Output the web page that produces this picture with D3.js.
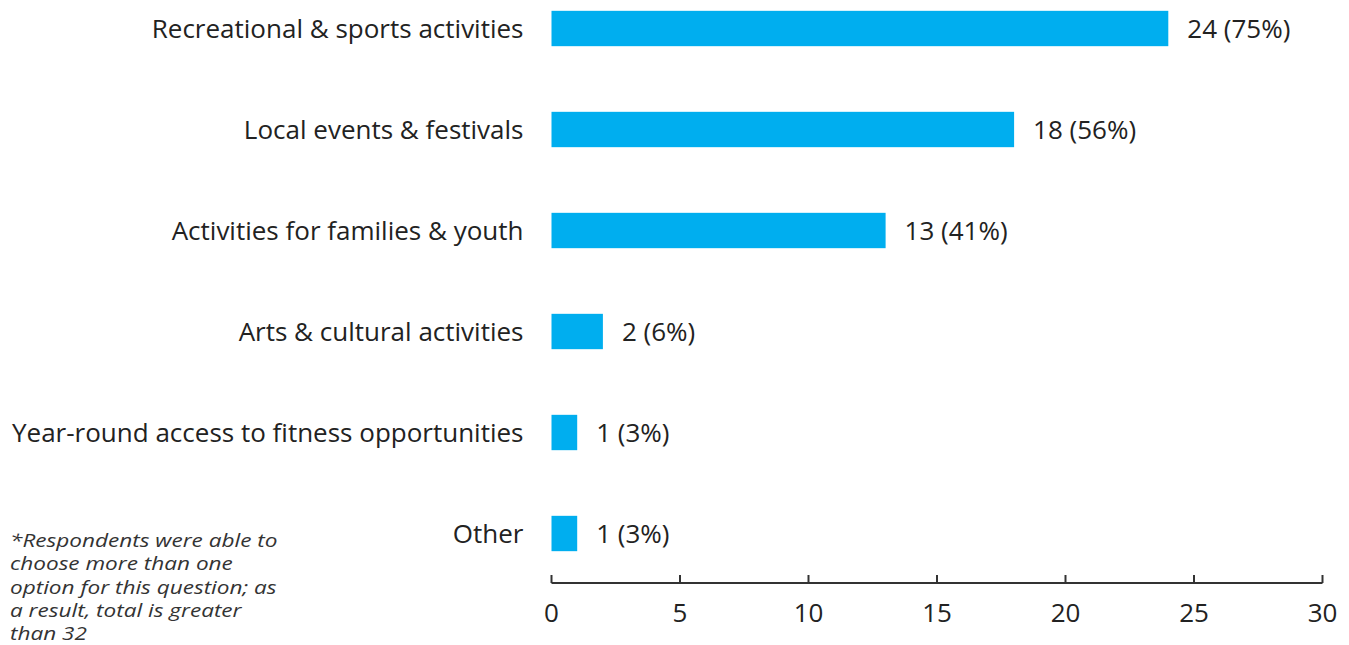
<!DOCTYPE html>
<html>
<head>
<meta charset="utf-8">
<script src="https://cdn.jsdelivr.net/npm/d3@7"></script>
<style>
  body { margin: 0; background: #fff; }
  svg { display: block; }
  .cat-label, .val-label, .axis text {
    font-family: "Open Sans", sans-serif; font-size: 26px; fill: #222;
  }
  .note { font-family: "Open Sans", sans-serif; font-style: italic; font-size: 17.5px; fill: #333; }
</style>
</head>
<body>
<svg id="chart" width="1349" height="645"></svg>
<script>
// chart data
const categories = [
  "Recreational & sports activities",
  "Local events & festivals",
  "Activities for families & youth",
  "Arts & cultural activities",
  "Year-round access to fitness opportunities",
  "Other"
];
const counts = [24, 18, 13, 2, 1, 1];
const percents = [75, 56, 41, 6, 3, 3];
const xTicks = [0, 5, 10, 15, 20, 25, 30];
const noteLines = [
  "*Respondents were able to",
  "choose more than one",
  "option for this question; as",
  "a result, total is greater",
  "than 32"
];

const svg = d3.select("#chart");

const x = d3.scaleLinear()
  .domain([0, 30])
  .range([551.5, 1322.5]);

const y = d3.scaleBand()
  .domain(categories)
  .range([-22, 584])
  .paddingInner(0.65)
  .paddingOuter(0.325);

const rows = categories.map((c, i) => ({ cat: c, n: counts[i], pct: percents[i] }));

// bars
svg.append("g")
  .selectAll("rect")
  .data(rows)
  .join("rect")
  .attr("x", x(0))
  .attr("y", d => y(d.cat))
  .attr("width", d => x(d.n) - x(0))
  .attr("height", y.bandwidth())
  .attr("fill", "#00aeef");

// category labels
svg.append("g")
  .selectAll("text")
  .data(rows)
  .join("text")
  .attr("class", "cat-label")
  .attr("x", x(0) - 28)
  .attr("y", d => y(d.cat) + y.bandwidth() / 2)
  .attr("dy", "0.35em")
  .attr("text-anchor", "end")
  .text(d => d.cat);

// value labels
svg.append("g")
  .selectAll("text")
  .data(rows)
  .join("text")
  .attr("class", "val-label")
  .attr("x", d => x(d.n) + 19)
  .attr("y", d => y(d.cat) + y.bandwidth() / 2)
  .attr("dy", "0.35em")
  .text(d => `${d.n} (${d.pct}%)`);

// x axis, ticks pointing up
const axisY = 583;
const axis = svg.append("g")
  .attr("class", "axis")
  .attr("transform", `translate(0,${axisY})`);

axis.append("line")
  .attr("x1", x(0))
  .attr("x2", x(30))
  .attr("stroke", "#333")
  .attr("stroke-width", 2);

axis.selectAll("line.tick")
  .data(xTicks)
  .join("line")
  .attr("class", "tick")
  .attr("x1", d => x(d))
  .attr("x2", d => x(d))
  .attr("y1", 0)
  .attr("y2", -8)
  .attr("stroke", "#333")
  .attr("stroke-width", 2);

axis.selectAll("text")
  .data(xTicks)
  .join("text")
  .attr("x", d => x(d))
  .attr("y", 30)
  .attr("dy", "0.35em")
  .attr("text-anchor", "middle")
  .text(d => d);

// footnote (glyphs are stretched wide in the original)
svg.append("g")
  .attr("transform", "translate(10,0) scale(1.29,1)")
  .append("text")
  .attr("class", "note")
  .selectAll("tspan")
  .data(noteLines)
  .join("tspan")
  .attr("x", 0)
  .attr("y", (d, i) => 547 + i * 23.3)
  .text(d => d);
</script>
</body>
</html>
